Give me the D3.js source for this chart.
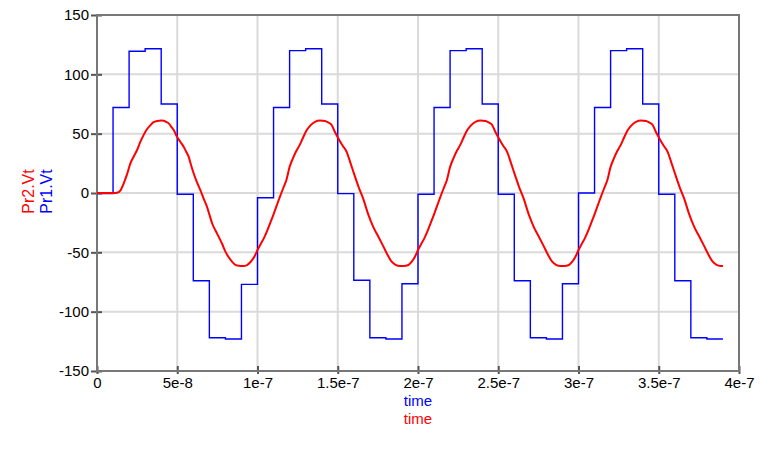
<!DOCTYPE html>
<html>
<head>
<meta charset="utf-8">
<script src="https://cdn.jsdelivr.net/npm/d3@7"></script>
<style>
  html, body { margin: 0; padding: 0; background: #fff; }
  svg { display: block; }
  text { font-family: "Liberation Sans", Arial, sans-serif; }
</style>
</head>
<body>
<svg id="chart" width="761" height="458"></svg>
<script>
// ---- Data ----
const xTicks = [0, 5e-8, 1e-7, 1.5e-7, 2e-7, 2.5e-7, 3e-7, 3.5e-7, 4e-7];
const xTickLabels = ["0", "5e-8", "1e-7", "1.5e-7", "2e-7", "2.5e-7", "3e-7", "3.5e-7", "4e-7"];
const yTicks = [-150, -100, -50, 0, 50, 100, 150];
const yTickLabels = ["-150", "-100", "-50", "0", "50", "100", "150"];

// Pr1.Vt : step signal, one value per 10 ns step (step i starts at i*1e-8 s)
const stepDuration = 1e-8;
const pr1Values = [
  -0.5, 72, 119.5, 121.5, 75, -1, -74, -122, -123, -77,
  -4, 72, 120, 121.5, 75, -0.5, -73.5, -122, -123, -76.5,
  -1, 72, 120, 121.5, 75, -1, -74, -122, -123, -76.5,
  0, 72, 120, 121.5, 75, -1, -74, -122, -123
];

// Pr2.Vt : [time in 10 ns units, value]
const pr2Points = [
  [0,0],[1.0,0],[1.3,0.5],[1.45,2],[1.66,8],[1.9,17],[2.08,25],[2.3,31],[2.49,36],[2.7,43],
  [2.91,49],[3.1,53.5],[3.32,57],[3.5,59.5],[3.74,60.7],[4.0,61],[4.15,60.8],[4.3,60],[4.47,58.7],
  [4.62,56],[4.78,53],[4.98,47.5],[5.2,43],[5.4,39],[5.55,35],[5.71,30.6],[5.85,24],[6.02,16.6],
  [6.2,10],[6.44,2.5],[6.65,-5],[6.85,-11.5],[7.0,-18],[7.17,-25.5],[7.4,-32],[7.58,-36.8],
  [7.8,-43],[8.0,-49.4],[8.2,-54],[8.41,-57.9],[8.6,-60.3],[8.83,-61.3],[9.1,-61.5],[9.35,-60.7],
  [9.5,-59],[9.66,-56.5],[9.81,-53.5],
  [10.0,-48],[10.2,-43],[10.4,-38],[10.6,-32],[10.8,-25],[11.0,-18],[11.2,-10.5],[11.4,-3],
  [11.6,4],[11.8,11],[12.0,22],[12.2,29],[12.4,35],[12.65,41],[12.85,47],[13.07,53],[13.3,57],
  [13.58,60],[13.9,61],[14.2,60.7],[14.4,59.5],[14.62,57.3],[14.8,52],[15.04,46],[15.3,40],
  [15.56,34.5],[15.8,25],[16.07,14],[16.3,5],[16.59,-5],[16.9,-18],[17.21,-28.5],[17.5,-36],
  [17.84,-45],[18.1,-52],[18.36,-57.9],[18.6,-60.5],[18.88,-61.5],[19.1,-61.5],[19.4,-60.7],
  [19.6,-58],[19.81,-53.7],
  [20.0,-48],[20.2,-43],[20.4,-38],[20.6,-32],[20.8,-25],[21.0,-18],[21.2,-10.5],[21.4,-3],
  [21.6,4],[21.8,11],[22.0,22],[22.2,29],[22.4,35],[22.65,41],[22.85,47],[23.07,53],[23.3,57],
  [23.58,60],[23.9,61],[24.2,60.7],[24.4,59.5],[24.62,57.3],[24.8,52],[25.04,46],[25.3,40],
  [25.56,34.5],[25.8,25],[26.07,14],[26.3,5],[26.59,-5],[26.9,-18],[27.21,-28.5],[27.5,-36],
  [27.84,-45],[28.1,-52],[28.36,-57.9],[28.6,-60.5],[28.88,-61.5],[29.1,-61.5],[29.4,-60.7],
  [29.6,-58],[29.81,-53.7],
  [30.0,-48],[30.2,-43],[30.4,-38],[30.6,-32],[30.8,-25],[31.0,-18],[31.2,-10.5],[31.4,-3],
  [31.6,4],[31.8,11],[32.0,22],[32.2,29],[32.4,35],[32.65,41],[32.85,47],[33.07,53],[33.3,57],
  [33.58,60],[33.9,61],[34.2,60.7],[34.4,59.5],[34.62,57.3],[34.8,52],[35.04,46],[35.3,40],
  [35.56,34.5],[35.8,25],[36.07,14],[36.3,5],[36.59,-5],[36.9,-18],[37.21,-28.5],[37.5,-36],
  [37.84,-45],[38.1,-52],[38.36,-57.9],[38.6,-60.5],[38.88,-61.5],[39.0,-61.6]
];
const pr2TimeUnit = 1e-8;

// ---- Layout ----
const svg = d3.select("#chart");
const x = d3.scaleLinear().domain([0, 4e-7]).range([97, 739]);
const y = d3.scaleLinear().domain([-150, 150]).range([371, 15]);
const frameColor = "#777777";
const gridColor = "#dadada";
const fontSize = 15;

// grid
svg.append("g").selectAll("line.vg").data(xTicks.slice(1, -1)).join("line")
  .attr("x1", d => x(d)).attr("x2", d => x(d))
  .attr("y1", y(150)).attr("y2", y(-150))
  .attr("stroke", gridColor).attr("stroke-width", 2);
svg.append("g").selectAll("line.hg").data(yTicks.slice(1, -1)).join("line")
  .attr("x1", x(0)).attr("x2", x(4e-7))
  .attr("y1", d => y(d)).attr("y2", d => y(d))
  .attr("stroke", gridColor).attr("stroke-width", 2);

// axes
const xAxis = d3.axisBottom(x).tickValues(xTicks)
  .tickFormat((d, i) => xTickLabels[i]).tickSizeInner(-5).tickSizeOuter(0).tickPadding(8);
const gx = svg.append("g").attr("transform", `translate(0,${y(-150)})`).call(xAxis);
gx.selectAll(".tick line").attr("stroke", "#555").attr("stroke-width", 2)
  .attr("y1", 3).attr("y2", -5);
gx.select(".domain").remove();
gx.selectAll("text").attr("font-size", fontSize).attr("fill", "#000").attr("dy", "0.62em")
  .attr("font-family", "Liberation Sans, Arial, sans-serif");

const yAxis = d3.axisLeft(y).tickValues(yTicks)
  .tickFormat((d, i) => yTickLabels[i]).tickSizeInner(-5).tickSizeOuter(0).tickPadding(8);
const gy = svg.append("g").attr("transform", `translate(${x(0)},0)`).call(yAxis);
gy.selectAll(".tick line").attr("stroke", "#555").attr("stroke-width", 2)
  .attr("x1", -6).attr("x2", 5);
gy.select(".domain").remove();
gy.selectAll("text").attr("font-size", fontSize).attr("fill", "#000")
  .attr("font-family", "Liberation Sans, Arial, sans-serif");

// frame
svg.append("rect")
  .attr("x", x(0)).attr("y", y(150))
  .attr("width", x(4e-7) - x(0)).attr("height", y(-150) - y(150))
  .attr("fill", "none").attr("stroke", frameColor).attr("stroke-width", 2);

// series
const pr1Data = pr1Values.map((v, i) => [i * stepDuration, v]);
pr1Data.push([pr1Values.length * stepDuration, pr1Values[pr1Values.length - 1]]);
const stepLine = d3.line().x(d => x(d[0])).y(d => y(d[1])).curve(d3.curveStepAfter);
svg.append("path").datum(pr1Data)
  .attr("d", stepLine).attr("fill", "none")
  .attr("stroke", "#0000ff").attr("stroke-width", 1.4);

const smoothLine = d3.line().x(d => x(d[0] * pr2TimeUnit)).y(d => y(d[1])).curve(d3.curveMonotoneX);
svg.append("path").datum(pr2Points)
  .attr("d", smoothLine).attr("fill", "none")
  .attr("stroke", "#ff0000").attr("stroke-width", 2);

// axis titles
svg.append("text").attr("x", 418).attr("y", 406).attr("text-anchor", "middle")
  .attr("font-size", fontSize).attr("fill", "#0000ff").text("time");
svg.append("text").attr("x", 418).attr("y", 424).attr("text-anchor", "middle")
  .attr("font-size", fontSize).attr("fill", "#ff0000").text("time");
svg.append("text").attr("transform", "translate(33.5,191.5) rotate(-90)").attr("text-anchor", "middle")
  .attr("font-size", 16).attr("fill", "#ff0000").text("Pr2.Vt");
svg.append("text").attr("transform", "translate(51.5,191.5) rotate(-90)").attr("text-anchor", "middle")
  .attr("font-size", 16).attr("fill", "#0000ff").text("Pr1.Vt");
</script>
</body>
</html>
